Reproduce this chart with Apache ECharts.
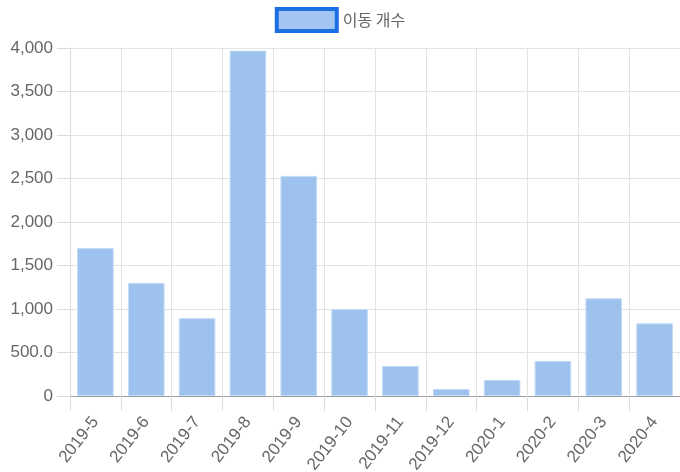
<!DOCTYPE html>
<html>
<head>
<meta charset="utf-8">
<script src="https://cdn.jsdelivr.net/npm/echarts@6/dist/echarts.min.js"></script>
<style>html,body{margin:0;padding:0;background:#fff;}#c{width:680px;height:472px;}</style>
</head>
<body>
<div id="c"></div>
<script>
const categories = ['2019-5','2019-6','2019-7','2019-8','2019-9','2019-10','2019-11','2019-12','2020-1','2020-2','2020-3','2020-4'];
const seriesName = '이동 개수';
const values = [1700, 1300, 895, 3970, 2530, 1000, 345, 80, 184, 402, 1123, 835];
const yTickLabels = {0:'0',500:'500.0',1000:'1,000',1500:'1,500',2000:'2,000',2500:'2,500',3000:'3,000',3500:'3,500',4000:'4,000'};

const chart = echarts.init(document.getElementById('c'), null, {renderer:'canvas'});
const font = "'Liberation Sans', Arial, sans-serif";
chart.setOption({
  animation: false,
  legend: {
    top: 2, left: 'center',
    itemWidth: 60, itemHeight: 22, itemGap: 10,
    icon: 'rect',
    data: [{name: seriesName, itemStyle: {color: '#a2c5f1', borderColor: '#1c6ee3', borderWidth: 4}}],
    textStyle: {fontFamily: "'Noto Sans CJK KR', sans-serif", fontSize: 16, color: '#666', padding: [0,0,0,1]}
  },
  grid: {left: 70, right: 0, top: 48, bottom: 76, containLabel: false, outerBoundsMode: 'none'},
  xAxis: {
    type: 'category', data: categories, boundaryGap: true,
    axisLine: {show: true, lineStyle: {color: '#a0a0a0', width: 1}},
    axisTick: {show: true, interval: 0, length: 15, lineStyle: {color: '#dcdcdc'}},
    splitLine: {show: true, interval: 0, lineStyle: {color: '#e2e2e2'}},
    axisLabel: {interval: 0, rotate: 52, margin: 23, fontFamily: font, fontSize: 17, color: '#666'}
  },
  yAxis: {
    type: 'value', min: 0, max: 4000, interval: 500,
    axisLine: {show: true, lineStyle: {color: '#dcdcdc'}},
    axisTick: {show: true, length: 13, lineStyle: {color: '#dcdcdc'}},
    splitLine: {show: true, lineStyle: {color: '#e2e2e2'}},
    axisLabel: {margin: 17, fontFamily: font, fontSize: 17, color: '#666', formatter: v => yTickLabels[v] !== undefined ? yTickLabels[v] : String(v)}
  },
  series: [{
    name: seriesName, type: 'bar', data: values, barWidth: '72%',
    itemStyle: {color: '#9ec2ee', borderColor: '#c2dbf7', borderWidth: 1}
  }]
});
</script>
</body>
</html>
